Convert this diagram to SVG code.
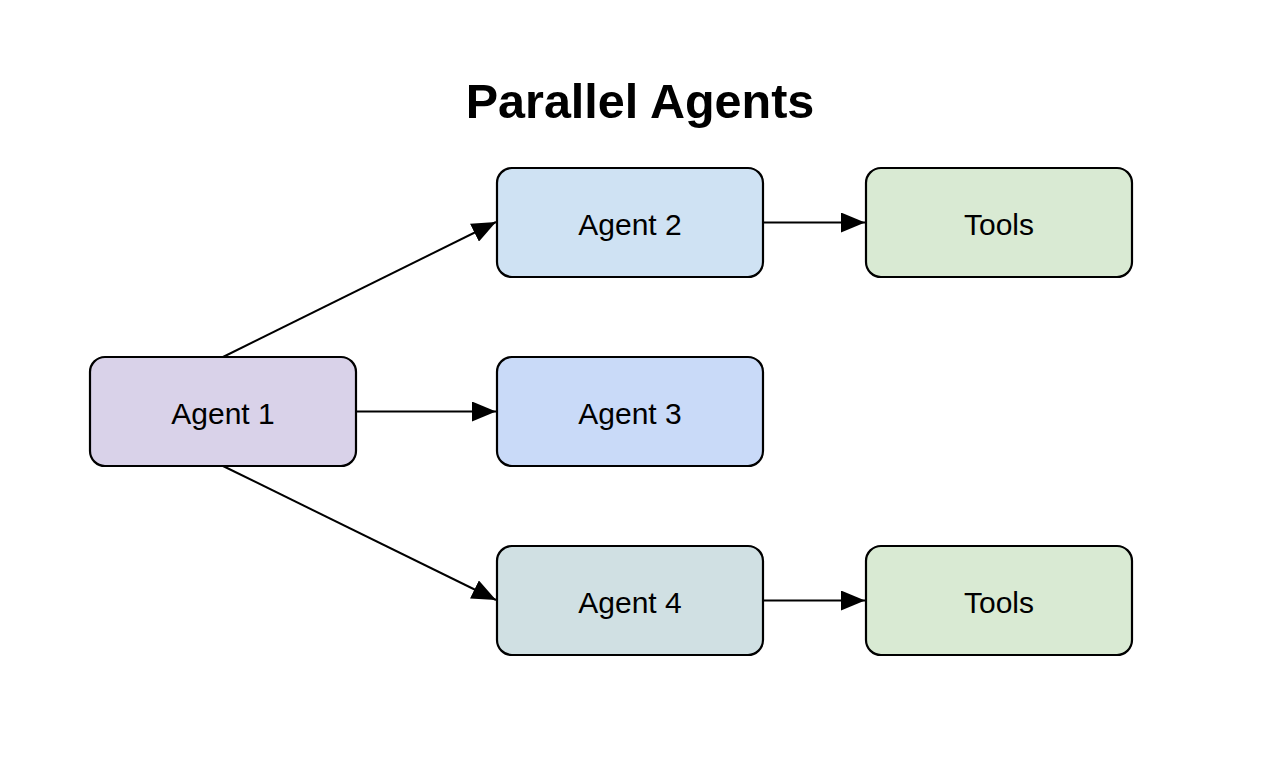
<svg xmlns="http://www.w3.org/2000/svg" width="1285" height="772" viewBox="0 0 1285 772">
<style>
.node rect{stroke:#000;stroke-width:2.2}
.node text{font-family:"Liberation Sans",Arial,sans-serif;font-size:30px;text-anchor:middle;fill:#000}
.title{font-family:"Liberation Sans",Arial,sans-serif;font-size:48.5px;font-weight:bold;text-anchor:middle;fill:#000}
.edge{stroke:#000;stroke-width:2;fill:none;marker-end:url(#arrow)}
</style>
<defs>
<marker id="arrow" markerUnits="userSpaceOnUse" markerWidth="25" markerHeight="20" refX="24" refY="10" orient="auto" viewBox="0 0 25 20">
<path d="M0,0 L24,10 L0,20 z" fill="#000"/>
</marker>
</defs>
<rect width="1285" height="772" fill="#fff"/>
<text class="title" x="640" y="118">Parallel Agents</text>
<g id="connectors">
<line class="edge" x1="223" y1="357" x2="496" y2="222"/>
<line class="edge" x1="357" y1="411.5" x2="496" y2="411.5"/>
<line class="edge" x1="223" y1="466" x2="496" y2="600"/>
<line class="edge" x1="764" y1="222.5" x2="865" y2="222.5"/>
<line class="edge" x1="764" y1="600.5" x2="865" y2="600.5"/>
</g>
<g id="agent1" class="node"><rect x="90" y="357" width="266" height="109" rx="15" fill="#d9d2e9"/><text x="223" y="424">Agent 1</text></g>
<g id="agent2" class="node"><rect x="497" y="168" width="266" height="109" rx="15" fill="#cfe2f3"/><text x="630" y="235">Agent 2</text></g>
<g id="agent3" class="node"><rect x="497" y="357" width="266" height="109" rx="15" fill="#c9daf8"/><text x="630" y="424">Agent 3</text></g>
<g id="agent4" class="node"><rect x="497" y="546" width="266" height="109" rx="15" fill="#d0e0e3"/><text x="630" y="613">Agent 4</text></g>
<g id="tools1" class="node"><rect x="866" y="168" width="266" height="109" rx="15" fill="#d9ead3"/><text x="999" y="235">Tools</text></g>
<g id="tools2" class="node"><rect x="866" y="546" width="266" height="109" rx="15" fill="#d9ead3"/><text x="999" y="613">Tools</text></g>
</svg>
